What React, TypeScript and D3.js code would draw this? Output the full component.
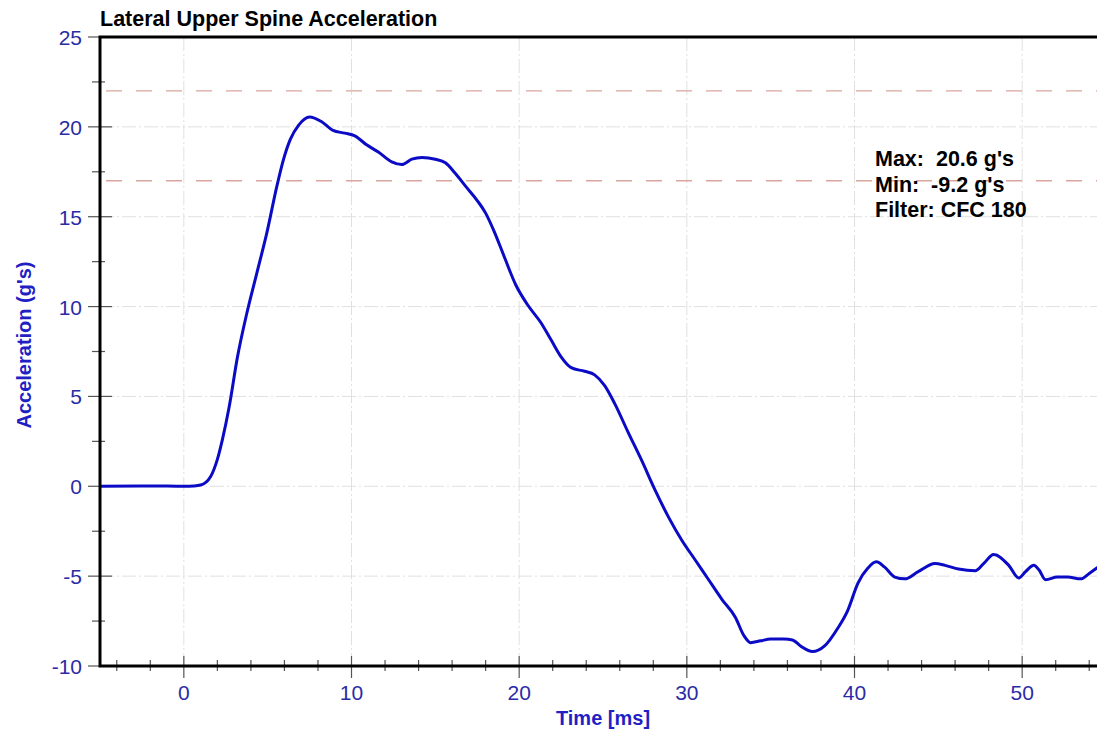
import * as d3 from "d3";
import React, { useRef, useEffect } from "react";

const width = 1097;
const height = 736;
const margin = { top: 37, right: -9, bottom: 70, left: 100 };

// sampled from the trace (ms / g's)
const timeMs = [
  -5, -2, 0, 0.6, 1.0, 1.6, 2.0, 2.3, 2.7, 3.2,
  3.75, 4.35, 4.95, 5.55, 5.95, 6.35, 6.85, 7.5, 8.2, 8.9,
  9.6, 10.2, 10.9, 11.6, 12.4, 13.0, 13.6, 14.2, 15.0, 15.6,
  16.2, 16.8, 17.5, 18.0, 18.5, 19.1, 19.8, 20.5, 21.3, 21.9,
  22.5, 23.1, 23.9, 24.5, 25.1, 25.7, 26.5, 27.3, 28.1, 28.9,
  29.7, 30.5, 31.3, 32.1, 32.9, 33.4, 33.8, 34.4, 35.0, 35.8,
  36.3, 36.8, 37.5, 38.2, 39.0, 39.6, 40.2, 40.8, 41.3, 41.8,
  42.4, 43.0, 43.8, 44.8, 45.4, 46.2, 47.2, 47.7, 48.3, 49.2,
  49.8, 50.2, 50.7, 51.0, 51.4, 52.1, 52.7, 53.5, 54.0, 54.6,
];
const accelG = [
  0, 0.02, 0, 0.02, 0.07, 0.55, 1.5, 2.6, 4.4, 7.2,
  9.6, 11.85, 14.1, 16.7, 18.2, 19.3, 20.1, 20.55, 20.3, 19.8,
  19.65, 19.5, 19.0, 18.6, 18.05, 17.9, 18.2, 18.3, 18.2, 18.0,
  17.4, 16.7, 15.9, 15.2, 14.2, 12.8, 11.2, 10.1, 9.1, 8.15,
  7.2, 6.6, 6.4, 6.2, 5.6, 4.6, 3.0, 1.45, -0.2, -1.7,
  -3.0, -4.1, -5.2, -6.3, -7.3, -8.3, -8.7, -8.6, -8.5, -8.5,
  -8.55, -8.9, -9.2, -8.9, -7.9, -6.9, -5.4, -4.55, -4.2, -4.5,
  -5.05, -5.15, -4.75, -4.3, -4.4, -4.6, -4.7, -4.3, -3.8, -4.4,
  -5.1, -4.75, -4.4, -4.65, -5.2, -5.05, -5.05, -5.15, -4.85, -4.45,
];

const xTicks = [0, 10, 20, 30, 40, 50];
const yTicks = [-10, -5, 0, 5, 10, 15, 20, 25];
const limitLines = [22, 17];
const statsText = ["Max:\u00a0\u00a020.6 g's", "Min:\u00a0\u00a0-9.2 g's", "Filter: CFC 180"];

const font = "'Liberation Sans', Arial, sans-serif";
const tickBlue = "#2b2ba6";
const titleBlue = "#1f1fc4";

export default function App() {
  const ref = useRef(null);

  useEffect(() => {
    const svg = d3.select(ref.current);
    svg.selectAll("*").remove();

    const x = d3
      .scaleLinear()
      .domain([-5, 55])
      .range([margin.left, width - margin.right]);
    const y = d3
      .scaleLinear()
      .domain([-10, 25])
      .range([height - margin.bottom, margin.top]);

    const x0 = x(-5);
    const x1 = x(55);
    const yBottom = y(-10);
    const yTop = y(25);

    // grid
    const grid = svg.append("g").attr("stroke", "#e0e0e0").attr("stroke-width", 1);
    grid
      .selectAll("line.v")
      .data(xTicks)
      .join("line")
      .attr("class", "v")
      .attr("x1", (d) => x(d))
      .attr("x2", (d) => x(d))
      .attr("y1", yTop)
      .attr("y2", yBottom)
      .attr("stroke-dasharray", "14,3,2,3");
    grid
      .selectAll("line.h")
      .data(yTicks.filter((d) => d > -10 && d < 25))
      .join("line")
      .attr("class", "h")
      .attr("x1", x0)
      .attr("x2", x1)
      .attr("y1", (d) => y(d))
      .attr("y2", (d) => y(d))
      .attr("stroke-dasharray", "14,3,2,3");

    // limit lines
    svg
      .append("g")
      .selectAll("line")
      .data(limitLines)
      .join("line")
      .attr("x1", x0 + 6)
      .attr("x2", x1)
      .attr("y1", (d) => y(d))
      .attr("y2", (d) => y(d))
      .attr("stroke", "#d9a59d")
      .attr("stroke-width", 1.4)
      .attr("stroke-dasharray", "16,14");

    // minor / major ticks
    const ticks = svg.append("g").attr("stroke", "#555").attr("stroke-width", 1.2);
    const xMinor = d3.range(-4, 55, 2).filter((d) => d % 10 !== 0);
    ticks
      .selectAll("line.xm")
      .data(xMinor)
      .join("line")
      .attr("x1", (d) => x(d))
      .attr("x2", (d) => x(d))
      .attr("y1", yBottom - 6)
      .attr("y2", yBottom + 5);
    ticks
      .selectAll("line.xM")
      .data(xTicks)
      .join("line")
      .attr("x1", (d) => x(d))
      .attr("x2", (d) => x(d))
      .attr("y1", yBottom - 10)
      .attr("y2", yBottom + 12);
    const yMinor = d3.range(-7.5, 25, 5);
    ticks
      .selectAll("line.ym")
      .data(yMinor)
      .join("line")
      .attr("x1", x0 - 8)
      .attr("x2", x0 + 5)
      .attr("y1", (d) => y(d))
      .attr("y2", (d) => y(d));
    ticks
      .selectAll("line.yM")
      .data(yTicks)
      .join("line")
      .attr("x1", x0 - 12)
      .attr("x2", (d) => (d === 25 || d === -10 ? x0 : x0 + 12))
      .attr("y1", (d) => y(d))
      .attr("y2", (d) => y(d));

    // tick labels
    svg
      .append("g")
      .attr("font-family", font)
      .attr("font-size", 21)
      .attr("fill", tickBlue)
      .attr("text-anchor", "end")
      .selectAll("text")
      .data(yTicks)
      .join("text")
      .attr("x", x0 - 18)
      .attr("y", (d) => y(d) + 8)
      .text((d) => d);
    svg
      .append("g")
      .attr("font-family", font)
      .attr("font-size", 21)
      .attr("fill", tickBlue)
      .attr("text-anchor", "middle")
      .selectAll("text")
      .data(xTicks)
      .join("text")
      .attr("x", (d) => x(d))
      .attr("y", yBottom + 34)
      .text((d) => d);

    // trace
    const pts: [number, number][] = timeMs.map((t, i) => [t, accelG[i]]);
    const line = d3
      .line<[number, number]>()
      .x((d) => x(d[0]))
      .y((d) => y(d[1]))
      .curve(d3.curveMonotoneX);
    svg
      .append("path")
      .datum(pts)
      .attr("d", line)
      .attr("fill", "none")
      .attr("stroke", "#0b0bc6")
      .attr("stroke-width", 3)
      .attr("stroke-linejoin", "round");

    // frame
    svg
      .append("path")
      .attr("d", `M${x1},${yTop}H${x0}V${yBottom}H${x1}`)
      .attr("fill", "none")
      .attr("stroke", "#000")
      .attr("stroke-width", 3);

    // title
    svg
      .append("text")
      .attr("x", x0)
      .attr("y", 26)
      .attr("font-family", font)
      .attr("font-size", 21.5)
      .attr("font-weight", "bold")
      .attr("fill", "#000")
      .text("Lateral Upper Spine Acceleration");

    // axis titles
    svg
      .append("text")
      .attr("x", (x0 + x1) / 2)
      .attr("y", 725)
      .attr("text-anchor", "middle")
      .attr("font-family", font)
      .attr("font-size", 20)
      .attr("font-weight", "bold")
      .attr("fill", titleBlue)
      .text("Time [ms]");
    svg
      .append("text")
      .attr("transform", `translate(31, 345) rotate(-90)`)
      .attr("text-anchor", "middle")
      .attr("font-family", font)
      .attr("font-size", 20)
      .attr("font-weight", "bold")
      .attr("fill", titleBlue)
      .text("Acceleration (g's)");

    // stats box
    svg
      .append("g")
      .attr("font-family", font)
      .attr("font-size", 21.5)
      .attr("font-weight", "bold")
      .attr("fill", "#000")
      .selectAll("text")
      .data(statsText)
      .join("text")
      .attr("x", 875)
      .attr("y", (d, i) => 166 + i * 25.5)
      .text((d) => d);
  }, []);

  return (
    <svg
      ref={ref}
      width={width}
      height={height}
      viewBox={`0 0 ${width} ${height}`}
      style={{ position: "absolute", left: 0, top: 0, background: "#fff" }}
    ></svg>
  );
}
